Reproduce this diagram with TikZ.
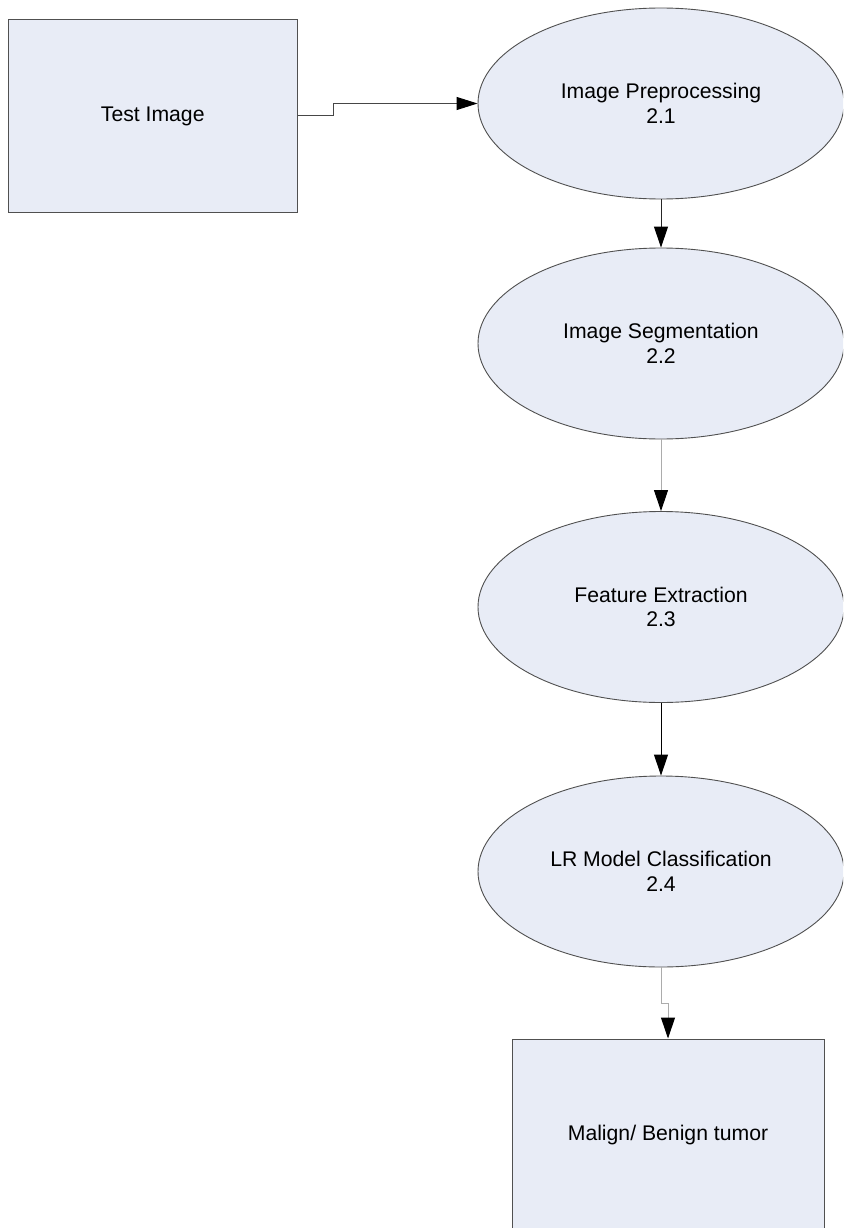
\documentclass[tikz,border=0pt]{standalone}
\usepackage{fontspec}
\setmainfont{Liberation Sans}
\usetikzlibrary{shapes.geometric,arrows.meta}

\definecolor{boxfill}{RGB}{232,236,246}
\definecolor{edgegray}{RGB}{80,80,80}
\definecolor{linedark}{RGB}{70,70,70}
\definecolor{linelight}{RGB}{172,172,172}

\tikzset{
  label font/.style={font=\fontsize{21.2}{24.5}\selectfont, text=black, align=center},
  procbox/.style={draw=edgegray, line width=1pt, fill=boxfill, rectangle,
                  inner sep=0pt, label font},
  stage/.style={draw=edgegray, line width=0.9pt, fill=boxfill, ellipse,
                minimum width=366pt, minimum height=191pt, inner sep=0pt, label font},
  flow/.style={line width=1pt, -{Triangle[length=21pt,width=14pt,color=black]}},
}

\begin{document}
\begin{tikzpicture}[x=1pt,y=-1pt]
  \useasboundingbox (0,0) rectangle (843,1228);
  \clip (0,0) rectangle (843,1228);

  % input and output boxes
  \node[procbox, minimum width=288.5pt, minimum height=192pt] (test) at (152.75,116) {Test Image};
  \node[procbox, minimum width=312pt, minimum height=192pt] (result) at (668,1135) {Malign/ Benign tumor};

  % processing stages
  \node[stage] (pre) at (661,103.5) {Image Preprocessing\\2.1};
  \node[stage] (seg) at (661,343.5) {Image Segmentation\\2.2};
  \node[stage] (feat) at (661,607) {Feature Extraction\\2.3};
  \node[stage] (cls) at (661,871.5) {LR Model Classification\\2.4};

  % connectors
  \draw[flow, draw=linedark, -{Triangle[length=21pt,width=13pt,color=black]}] (test.east) -- ++(36,0) |- (pre.west);
  \draw[flow, draw=black!85] (pre.south) -- (seg.north);
  \draw[flow, draw=linelight] (seg.south) -- (feat.north);
  \draw[flow, draw=black] (feat.south) -- (cls.north);
  \draw[flow, draw=linelight] (cls.south) -- ++(0,36) -| (result.north);
\end{tikzpicture}
\end{document}
